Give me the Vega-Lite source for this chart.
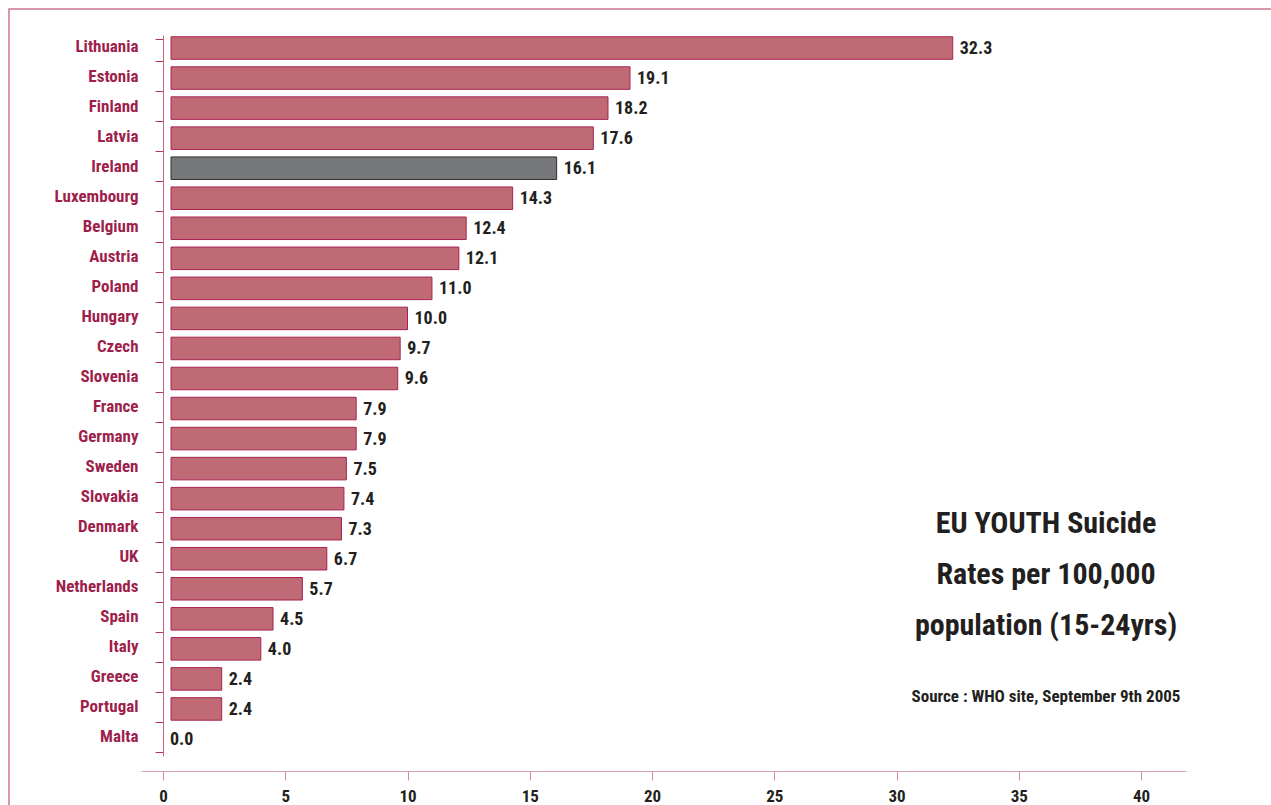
{
  "$schema": "https://vega.github.io/schema/vega-lite/v6.json",
  "width": 1270,
  "height": 800,
  "autosize": {"type": "none"},
  "padding": {"left": 9, "top": 9, "right": 0, "bottom": 0},
  "background": "white",
  "config": {
    "view": {"stroke": "#cb7590", "strokeWidth": 1.5},
    "font": "Roboto Condensed, Roboto, sans-serif"
  },
  "title": {
    "text": ["EU YOUTH Suicide", "Rates per 100,000", "population  (15-24yrs)"],
    "subtitle": "Source : WHO site, September 9th 2005",
    "orient": "top",
    "anchor": "start",
    "frame": "group",
    "align": "center",
    "dx": 1037,
    "dy": 705,
    "offset": 0,
    "font": "Roboto Condensed, Roboto, sans-serif",
    "fontSize": 30,
    "fontWeight": "bold",
    "color": "#231f20",
    "lineHeight": 51,
    "subtitleFont": "Roboto Condensed, Roboto, sans-serif",
    "subtitleFontSize": 17,
    "subtitleFontWeight": "bold",
    "subtitleColor": "#231f20",
    "subtitlePadding": 48
  },
  "data": {
    "values": [
      {"country": "Lithuania", "rate": 32.3},
      {"country": "Estonia", "rate": 19.1},
      {"country": "Finland", "rate": 18.2},
      {"country": "Latvia", "rate": 17.6},
      {"country": "Ireland", "rate": 16.1},
      {"country": "Luxembourg", "rate": 14.3},
      {"country": "Belgium", "rate": 12.4},
      {"country": "Austria", "rate": 12.1},
      {"country": "Poland", "rate": 11.0},
      {"country": "Hungary", "rate": 10.0},
      {"country": "Czech", "rate": 9.7},
      {"country": "Slovenia", "rate": 9.6},
      {"country": "France", "rate": 7.9},
      {"country": "Germany", "rate": 7.9},
      {"country": "Sweden", "rate": 7.5},
      {"country": "Slovakia", "rate": 7.4},
      {"country": "Denmark", "rate": 7.3},
      {"country": "UK", "rate": 6.7},
      {"country": "Netherlands", "rate": 5.7},
      {"country": "Spain", "rate": 4.5},
      {"country": "Italy", "rate": 4.0},
      {"country": "Greece", "rate": 2.4},
      {"country": "Portugal", "rate": 2.4},
      {"country": "Malta", "rate": 0.0}
    ]
  },
  "encoding": {
    "y": {
      "field": "country",
      "type": "nominal",
      "sort": null,
      "scale": {"range": [26, 747], "paddingInner": 0.25, "paddingOuter": 0.125},
      "axis": {
        "title": null,
        "orient": "left",
        "offset": -154,
        "domainColor": "#c4637e",
        "tickColor": "#b5365f",
        "tickSize": 8,
        "tickBand": "extent",
        "labelFontSize": 17,
        "labelFontWeight": "bold",
        "labelColor": "#9e1f4c",
        "labelPadding": 17,
        "labelOffset": -4,
        "labelLimit": 300
      }
    },
    "x": {
      "field": "rate",
      "type": "quantitative",
      "scale": {"domain": [-0.9, 41.84], "range": [132, 1177], "nice": false, "zero": false},
      "axis": {
        "title": null,
        "orient": "bottom",
        "offset": -38,
        "values": [0, 5, 10, 15, 20, 25, 30, 35, 40],
        "format": "d",
        "grid": false,
        "domainColor": "#dba3b1",
        "tickColor": "#d28a9c",
        "tickSize": 9,
        "labelFontSize": 17,
        "labelFontWeight": "bold",
        "labelColor": "#231f20",
        "labelPadding": 8
      }
    }
  },
  "layer": [
    {
      "transform": [{"filter": "datum.rate > 0"}],
      "mark": {"type": "bar", "strokeWidth": 1, "yOffset": -2, "x2Offset": 8},
      "encoding": {
        "x2": {"datum": 0},
        "color": {
          "condition": {"test": "datum.country === 'Ireland'", "value": "#77787c"},
          "value": "#c06a76"
        },
        "stroke": {
          "condition": {"test": "datum.country === 'Ireland'", "value": "#2e2e30"},
          "value": "#a8224f"
        }
      }
    },
    {
      "mark": {
        "type": "text",
        "align": "left",
        "baseline": "middle",
        "dx": 7,
        "yOffset": -1,
        "fontSize": 18,
        "fontWeight": "bold",
        "color": "#231f20"
      },
      "encoding": {
        "text": {"field": "rate", "type": "quantitative", "format": ".1f"}
      }
    }
  ]
}
